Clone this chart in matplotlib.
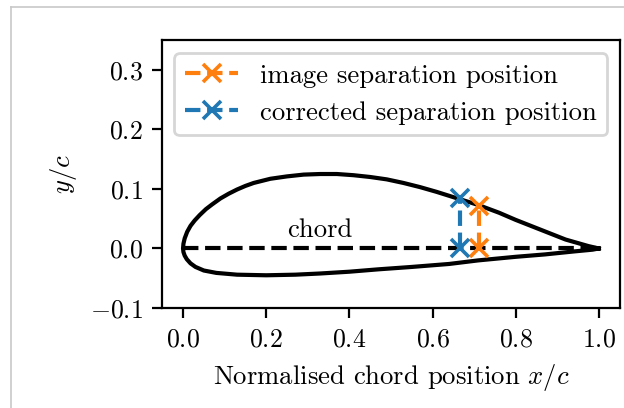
import numpy as np
import matplotlib
matplotlib.use("Agg")
import matplotlib.pyplot as plt
from matplotlib.lines import Line2D

plt.rcParams['font.family'] = 'serif'
plt.rcParams['font.serif'] = ['cmr10']
plt.rcParams['mathtext.fontset'] = 'cm'
plt.rcParams['axes.formatter.use_mathtext'] = True
plt.rcParams['font.size'] = 9.6
plt.rcParams['xtick.labelsize'] = 9.3
plt.rcParams['ytick.labelsize'] = 9.3

# airfoil surfaces
upper_x = [0.0, 0.001, 0.004, 0.01, 0.018, 0.028, 0.04, 0.055, 0.07, 0.09, 0.11, 0.13,
           0.15, 0.17, 0.21, 0.25, 0.29, 0.33, 0.37, 0.41, 0.45, 0.49, 0.53, 0.57,
           0.61, 0.66, 0.71, 0.76, 0.80, 0.84, 0.88, 0.92, 0.95, 0.975, 1.0]
upper_y = [0.0, 0.008, 0.017, 0.028, 0.038, 0.047, 0.056, 0.066, 0.074, 0.084, 0.092, 0.099,
           0.105, 0.110, 0.117, 0.121, 0.124, 0.125, 0.125, 0.123, 0.120, 0.116, 0.110, 0.103,
           0.095, 0.084, 0.073, 0.060, 0.048, 0.037, 0.026, 0.015, 0.009, 0.004, 0.0]
lower_x = [0.0, 0.001, 0.004, 0.009, 0.018, 0.03, 0.05, 0.08, 0.13, 0.2, 0.27, 0.33,
           0.4, 0.47, 0.55, 0.64, 0.71, 0.8, 0.87, 0.94, 0.985, 1.0]
lower_y = [0.0, -0.006, -0.012, -0.018, -0.025, -0.031, -0.037, -0.041, -0.044, -0.045,
           -0.044, -0.042, -0.039, -0.035, -0.031, -0.026, -0.020, -0.014, -0.010, -0.005,
           -0.002, 0.0]

chord_x = [0.0, 1.0]
chord_y = [0.0, 0.0]

image_sep_x = [0.711, 0.711]
image_sep_y = [0.0, 0.072]
corr_sep_x = [0.666, 0.666]
corr_sep_y = [0.0, 0.084]

fig = plt.figure(figsize=(3.12, 2.04), dpi=200)
ax = fig.add_axes([0.260, 0.245, 0.733, 0.657])

foil_x = np.concatenate([upper_x[::-1], lower_x[1:]])
foil_y = np.concatenate([upper_y[::-1], lower_y[1:]])
ax.plot(foil_x, foil_y, color='black', lw=1.5)
ax.plot(chord_x, chord_y, '--', color='black', lw=1.5)
ax.text(0.25, 0.02, 'chord')

ax.plot(image_sep_x, image_sep_y, 'x--', color='#ff7f0e', lw=1.5, ms=6.2, mew=1.3,
        label='image separation position')
ax.plot(corr_sep_x, corr_sep_y, 'x--', color='#1f77b4', lw=1.5, ms=6.2, mew=1.3,
        label='corrected separation position')

ax.set_ylim(-0.1, 0.35)
ax.set_xticks([0.0, 0.2, 0.4, 0.6, 0.8, 1.0])
ax.set_yticks([-0.1, 0.0, 0.1, 0.2, 0.3])
ax.set_xlabel('Normalised chord position $x/c$')
ax.set_ylabel('$y/c$')
ax.legend(loc='upper center')

# light frame of the page the figure sits on
fig.add_artist(Line2D([0.018, 0.018], [0.0, 0.982], color='#c8c8c8', lw=0.6))
fig.add_artist(Line2D([0.018, 1.0], [0.982, 0.982], color='#c8c8c8', lw=0.6))

fig.savefig('out.png', dpi=200)
